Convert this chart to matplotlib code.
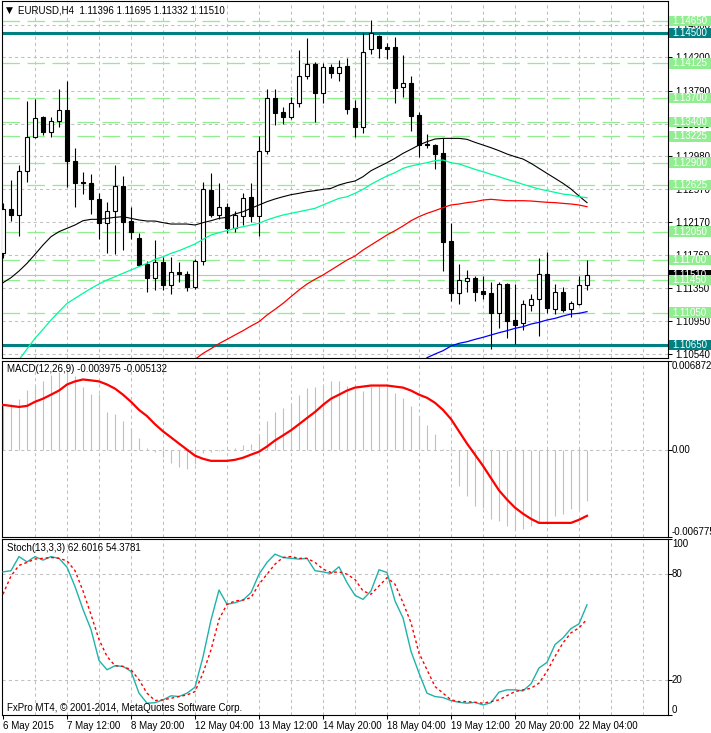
import numpy as np
import matplotlib
matplotlib.use("Agg")
import matplotlib.pyplot as plt
from matplotlib.patches import Rectangle
from matplotlib.transforms import blended_transform_factory

plt.rcParams['font.family'] = ['Liberation Sans', 'DejaVu Sans']
plt.rcParams['font.size'] = 7

# ---- EURUSD H4 candles ----
opens = [1.11781, 1.12324, 1.12250, 1.12801, 1.13213, 1.13459, 1.13283, 1.13418, 1.13550, 1.12925,
         1.12657, 1.12645, 1.12448, 1.12152, 1.12308, 1.12612, 1.12180, 1.11966, 1.11650, 1.11473,
         1.11670, 1.11391, 1.11555, 1.11522, 1.11370, 1.11691, 1.12563, 1.12254, 1.12349, 1.12098,
         1.12246, 1.12472, 1.12246, 1.13048, 1.13694, 1.13521, 1.13459, 1.13640, 1.13969, 1.14113,
         1.13764, 1.14076, 1.14011, 1.14093, 1.13571, 1.13336, 1.14298, 1.14463, 1.14323, 1.14323,
         1.13830, 1.13879, 1.13484, 1.13130, 1.13114, 1.13015, 1.11934, 1.11296, 1.11444, 1.11473,
         1.11317, 1.11288, 1.11049, 1.11399, 1.10959, 1.10926, 1.11148, 1.11214, 1.11526, 1.11099,
         1.11300, 1.11090, 1.11156, 1.11396]
highs = [1.12407, 1.12686, 1.12871, 1.13665, 1.13682, 1.13476, 1.13459, 1.13805, 1.13908, 1.13077,
         1.12781, 1.12760, 1.12522, 1.12419, 1.12871, 1.12736, 1.12349, 1.12036, 1.11691, 1.11946,
         1.11740, 1.11740, 1.11670, 1.11563, 1.11707, 1.12657, 1.12768, 1.12645, 1.12398, 1.12304,
         1.12522, 1.12645, 1.13229, 1.13805, 1.13805, 1.13583, 1.13714, 1.14290, 1.14434, 1.14146,
         1.14126, 1.14118, 1.14167, 1.14187, 1.13673, 1.14496, 1.14660, 1.14475, 1.14373, 1.14447,
         1.14229, 1.13969, 1.13529, 1.13254, 1.13126, 1.13200, 1.12152, 1.11650, 1.11576, 1.11502,
         1.11502, 1.11432, 1.11432, 1.11411, 1.11403, 1.11206, 1.11280, 1.11720, 1.11802, 1.11403,
         1.11362, 1.11197, 1.11502, 1.11695]
lows = [1.11720, 1.12184, 1.11995, 1.12666, 1.13200, 1.13241, 1.13221, 1.13336, 1.12596, 1.12349,
        1.12509, 1.12267, 1.11954, 1.11790, 1.11769, 1.11822, 1.11954, 1.11625, 1.11308, 1.11329,
        1.11329, 1.11280, 1.11432, 1.11321, 1.11337, 1.11637, 1.12234, 1.12201, 1.12036, 1.12040,
        1.12131, 1.12172, 1.11995, 1.13007, 1.13365, 1.13377, 1.13439, 1.13583, 1.13928, 1.13406,
        1.13640, 1.13941, 1.13912, 1.13496, 1.13221, 1.13270, 1.14237, 1.14196, 1.14175, 1.13640,
        1.13706, 1.13295, 1.12966, 1.13085, 1.12826, 1.11567, 1.11193, 1.11156, 1.11308, 1.11197,
        1.11218, 1.10597, 1.10856, 1.10733, 1.10663, 1.10835, 1.11070, 1.10761, 1.11049, 1.11033,
        1.11062, 1.10992, 1.11144, 1.11332]
closes = [1.12324, 1.12254, 1.12801, 1.13213, 1.13447, 1.13283, 1.13418, 1.13550, 1.12925, 1.12645,
          1.12645, 1.12448, 1.12152, 1.12308, 1.12612, 1.12172, 1.12049, 1.11637, 1.11473, 1.11670,
          1.11391, 1.11555, 1.11526, 1.11370, 1.11691, 1.12571, 1.12254, 1.12349, 1.12098, 1.12254,
          1.12460, 1.12246, 1.13048, 1.13694, 1.13517, 1.13459, 1.13640, 1.13969, 1.14113, 1.13764,
          1.14076, 1.14011, 1.14085, 1.13566, 1.13336, 1.14270, 1.14496, 1.14311, 1.14307, 1.13826,
          1.13879, 1.13480, 1.13118, 1.13114, 1.13007, 1.11925, 1.11296, 1.11452, 1.11473, 1.11308,
          1.11280, 1.11049, 1.11399, 1.10951, 1.10901, 1.11152, 1.11214, 1.11522, 1.11111, 1.11300,
          1.11082, 1.11164, 1.11386, 1.11510]

# moving averages on the price panel
ma_black = [1.11419, 1.11481, 1.11563, 1.11658, 1.11769, 1.11884, 1.11987, 1.12049, 1.12090, 1.12131,
            1.12184, 1.12201, 1.12201, 1.12213, 1.12226, 1.12234, 1.12213, 1.12193, 1.12180, 1.12180,
            1.12160, 1.12143, 1.12143, 1.12143, 1.12131, 1.12160, 1.12184, 1.12213, 1.12226, 1.12267,
            1.12295, 1.12337, 1.12378, 1.12419, 1.12452, 1.12480, 1.12505, 1.12522, 1.12542, 1.12555,
            1.12571, 1.12583, 1.12625, 1.12653, 1.12674, 1.12727, 1.12801, 1.12851, 1.12900, 1.12954,
            1.13015, 1.13065, 1.13118, 1.13159, 1.13192, 1.13200, 1.13200, 1.13200, 1.13188, 1.13151,
            1.13118, 1.13085, 1.13048, 1.13007, 1.12974, 1.12945, 1.12892, 1.12830, 1.12768, 1.12707,
            1.12645, 1.12575, 1.12489, 1.12407]
ma_green = [np.nan] * 2 + [
            1.10469, 1.10601, 1.10733, 1.10844, 1.10959, 1.11062, 1.11164, 1.11226,
            1.11288, 1.11349, 1.11403, 1.11452, 1.11493, 1.11535, 1.11576, 1.11617, 1.11658, 1.11707,
            1.11740, 1.11781, 1.11814, 1.11855, 1.11897, 1.11954, 1.12008, 1.12036, 1.12061, 1.12090,
            1.12110, 1.12131, 1.12152, 1.12193, 1.12226, 1.12254, 1.12275, 1.12295, 1.12316, 1.12337,
            1.12378, 1.12419, 1.12460, 1.12480, 1.12522, 1.12571, 1.12633, 1.12686, 1.12736, 1.12777,
            1.12830, 1.12859, 1.12880, 1.12900, 1.12925, 1.12933, 1.12900, 1.12884, 1.12851, 1.12818,
            1.12789, 1.12756, 1.12727, 1.12694, 1.12666, 1.12633, 1.12604, 1.12575, 1.12555, 1.12534,
            1.12513, 1.12501, 1.12480, 1.12468]
ma_red = [np.nan] * 24 + [
          1.10473, 1.10547, 1.10605, 1.10667, 1.10720, 1.10774,
          1.10827, 1.10885, 1.10938, 1.11020, 1.11090, 1.11164, 1.11247, 1.11329, 1.11403, 1.11461,
          1.11514, 1.11576, 1.11637, 1.11699, 1.11748, 1.11822, 1.11884, 1.11946, 1.12008, 1.12061,
          1.12119, 1.12184, 1.12234, 1.12275, 1.12308, 1.12345, 1.12378, 1.12390, 1.12407, 1.12419,
          1.12439, 1.12448, 1.12439, 1.12431, 1.12431, 1.12431, 1.12427, 1.12419, 1.12411, 1.12407,
          1.12398, 1.12390, 1.12378, 1.12357]
ma_blue = [np.nan] * 53 + [
           1.10494, 1.10539, 1.10580, 1.10638, 1.10671, 1.10691, 1.10720,
           1.10745, 1.10774, 1.10802, 1.10827, 1.10856, 1.10876, 1.10909, 1.10930, 1.10959, 1.10979,
           1.11008, 1.11033, 1.11041, 1.11062]

# horizontal levels
green_levels = [1.14650, 1.14125, 1.13700, 1.13400, 1.13225, 1.12900,
                1.12625, 1.12050, 1.11700, 1.11450, 1.11050]
teal_levels = [1.14500, 1.10650]
bid = 1.11510
price_ticks = [1.10540, 1.10950, 1.11350, 1.11760, 1.12170, 1.12570,
               1.12980, 1.13380, 1.13790, 1.14200, 1.14600]

# ---- MACD(12,26,9) ----
macd_main = [0.00355, 0.00355, 0.00395, 0.00466, 0.00497, 0.00529, 0.00576, 0.00600, 0.00615, 0.00568,
             0.00489, 0.00434, 0.00434, 0.00292, 0.00276, 0.00221, 0.00158, 0.00087, 0.00016, -0.00016,
             -0.00055, -0.00103, -0.00134, -0.00150, -0.00110, -0.00024, -0.00016, -0.00008, 0.00008, 0.00016,
             0.00039, 0.00047, 0.00118, 0.00221, 0.00292, 0.00323, 0.00355, 0.00426, 0.00481, 0.00489,
             0.00497, 0.00529, 0.00529, 0.00497, 0.00473, 0.00458, 0.00489, 0.00497, 0.00489, 0.00442,
             0.00402, 0.00339, 0.00260, 0.00189, 0.00118, 0.00002, -0.00008, -0.00284, -0.00363, -0.00434,
             -0.00450, -0.00537, -0.00552, -0.00592, -0.00615, -0.00615, -0.00592, -0.00568, -0.00568, -0.00513,
             -0.00497, -0.00458, -0.00458, -0.003975]
macd_signal = [0.00347, 0.00339, 0.00331, 0.00339, 0.00371, 0.00395, 0.00426, 0.00458, 0.00505, 0.00529,
               0.00544, 0.00537, 0.00529, 0.00505, 0.00473, 0.00426, 0.00371, 0.00308, 0.00260, 0.00197,
               0.00142, 0.00095, 0.00047, 0.00000, -0.00047, -0.00071, -0.00087, -0.00087, -0.00087, -0.00079,
               -0.00063, -0.00039, -0.00016, 0.00024, 0.00071, 0.00110, 0.00150, 0.00197, 0.00245, 0.00292,
               0.00347, 0.00395, 0.00426, 0.00458, 0.00481, 0.00489, 0.00497, 0.00497, 0.00497, 0.00489,
               0.00481, 0.00458, 0.00426, 0.00402, 0.00363, 0.00308, 0.00237, 0.00142, 0.00047, -0.00039,
               -0.00126, -0.00221, -0.00316, -0.00387, -0.00450, -0.00497, -0.00537, -0.00568, -0.00568, -0.00568,
               -0.00568, -0.00568, -0.00544, -0.005132]
macd_range = (-0.006775, 0.006872)

# ---- Stochastic(13,3,3) ----
stoch_main = [81.3, 82.0, 90.0, 87.0, 90.0, 88.0, 90.0, 89.0, 84.0, 73.0,
              60.0, 48.6, 31.0, 25.7, 28.0, 27.6, 24.8, 12.4, 6.7, 7.0,
              8.6, 10.9, 10.5, 12.4, 15.8, 33.0, 54.0, 71.0, 62.9, 63.8,
              65.3, 69.5, 80.0, 86.7, 91.4, 89.5, 89.0, 88.6, 89.0, 82.0,
              81.3, 80.4, 84.2, 75.2, 68.0, 65.7, 70.5, 82.5, 81.0, 64.8,
              55.2, 36.2, 23.8, 12.4, 10.5, 9.9, 8.2, 7.2, 6.7, 7.2,
              5.7, 7.0, 13.0, 14.3, 14.3, 13.7, 17.7, 26.7, 29.9, 40.0,
              43.8, 49.1, 51.8, 62.6016]
stoch_signal = [68.6, 79.0, 85.0, 86.7, 88.6, 89.0, 89.5, 89.0, 87.6, 82.0,
                70.5, 57.0, 42.9, 33.3, 28.0, 27.6, 25.7, 20.0, 12.4, 8.2,
                8.6, 9.5, 10.5, 11.4, 13.3, 23.8, 37.0, 54.3, 62.9, 64.8,
                65.3, 66.7, 74.3, 80.0, 85.7, 89.5, 90.0, 89.0, 89.0, 86.7,
                82.9, 81.0, 81.3, 80.0, 77.0, 70.5, 68.6, 73.3, 78.0, 74.3,
                63.8, 52.4, 35.2, 25.7, 16.2, 12.4, 8.6, 7.6, 7.6, 7.2,
                6.7, 7.6, 8.6, 11.0, 13.3, 14.3, 15.2, 18.1, 24.8, 33.3,
                41.0, 46.7, 49.5, 54.3781]

# time axis: label every 8 bars
time_label_idx = [0, 8, 16, 24, 32, 40, 48, 56, 64, 72]
time_labels = ['6 May 2015', '7 May 12:00', '8 May 20:00', '12 May 04:00', '13 May 12:00',
               '14 May 20:00', '18 May 04:00', '19 May 12:00', '20 May 20:00', '22 May 04:00']

GRID = '#C0C0C0'
LGREEN = '#90EE90'
TEAL = '#008080'

W, H = 711, 733
fig = plt.figure(figsize=(W / 100, H / 100), dpi=100)


def px_axes(x0, y0, x1, y1):
    return fig.add_axes([x0 / W, 1 - y1 / H, (x1 - x0) / W, (y1 - y0) / H])


ax = px_axes(2, 1, 668, 358)
ax_macd = px_axes(2, 361, 668, 537)
ax_st = px_axes(2, 539, 668, 715)

x = np.arange(len(opens))
xlim = (-0.125, 83.125)
for a in (ax, ax_macd, ax_st):
    a.set_xlim(*xlim)
    for s in a.spines.values():
        s.set_linewidth(0.8)
        s.set_color('black')
    for xv in range(4, 84, 4):
        a.axvline(xv, color=GRID, lw=0.75, ls=(0, (3, 3)), zorder=0)
    a.yaxis.tick_right()
    a.tick_params(axis='y', length=3, width=0.75, pad=2, labelsize=7)

# ---- price panel ----
ylo, yhi = 1.10490, 1.14895
ax.set_ylim(ylo, yhi)
ax.set_xticks([])
ax.set_yticks(price_ticks)
ax.set_yticklabels([f'{v:.5f}' for v in price_ticks])
for v in price_ticks:
    ax.axhline(v, color=GRID, lw=0.75, ls=(0, (3, 3)), zorder=0)
for v in green_levels:
    ax.axhline(v, color=LGREEN, lw=0.9, ls=(0, (14, 6)), zorder=1)
ax.axhline(bid, color=GRID, lw=0.8, zorder=1)
for v in teal_levels:
    ax.axhline(v, color=TEAL, lw=2.2, zorder=2)

o, h, l, c = (np.array(v) for v in (opens, highs, lows, closes))
up = c >= o
ax.vlines(x, l, h, color='black', lw=0.8, zorder=3)
ax.bar(x[up], (c - o)[up], bottom=o[up], width=0.55, facecolor='white',
       edgecolor='black', lw=0.8, zorder=4)
ax.bar(x[~up], (o - c)[~up], bottom=c[~up], width=0.55, facecolor='black',
       edgecolor='black', lw=0.8, zorder=4)

ax.plot(x, ma_black, color='black', lw=0.8, zorder=5)
ax.plot(x, ma_green, color='#00FA9A', lw=0.9, zorder=5)
ax.plot(x, ma_red, color='red', lw=0.9, zorder=5)
ax.plot(x, ma_blue, color='blue', lw=0.9, zorder=5)

# price labels on the right scale
trans = blended_transform_factory(ax.transAxes, ax.transData)
ppu = 357 / (yhi - ylo)
hh = 10.5 / ppu
tags = [(bid, 'black')] + [(v, LGREEN) for v in green_levels] + [(v, TEAL) for v in teal_levels]
tags = [tags[0]] + sorted(tags[1:], key=lambda t: -t[0])
for k, (lvl, col) in enumerate(tags):
    ax.add_patch(Rectangle((1 + 1 / 666, lvl - hh / 2), 42 / 666, hh, transform=trans,
                           facecolor=col, edgecolor='none', clip_on=False, zorder=10 + 2 * k))
    ax.text(1 + 4 / 666, lvl, f'{lvl:.5f}', transform=trans, color='white', fontsize=7,
            ha='left', va='center', clip_on=False, zorder=11 + 2 * k)

fig.text(6 / W, 1 - 10.5 / H, '\u25bc', fontsize=6.5, va='center', ha='left',
         family='DejaVu Sans')
fig.text(18 / W, 1 - 10.5 / H,
         f'EURUSD,H4  {opens[-1]:.5f} {highs[-1]:.5f} {lows[-1]:.5f} {closes[-1]:.5f}',
         fontsize=7, va='center', ha='left')

# ---- MACD panel ----
ax_macd.set_ylim(*macd_range)
ax_macd.set_xticks([])
ax_macd.set_yticks([macd_range[1], 0, macd_range[0]])
ax_macd.set_yticklabels([])
ax_macd.axhline(0, color=GRID, lw=0.75, ls=(0, (3, 3)), zorder=0)
ax_macd.vlines(x, 0, macd_main, color=GRID, lw=0.8, zorder=2)
ax_macd.plot(x, macd_signal, color='red', lw=1.6, zorder=3)
mt = blended_transform_factory(ax_macd.transAxes, ax_macd.transData)
ax_macd.text(1 + 4 / 666, macd_range[1], f'{macd_range[1]:.6f}', transform=mt, va='top', fontsize=7)
ax_macd.text(1 + 4 / 666, 0, '0.00', transform=mt, va='center', fontsize=7)
ax_macd.text(1 + 4 / 666, macd_range[0], f'{macd_range[0]:.6f}', transform=mt, va='bottom', fontsize=7,
             clip_on=False)
fig.text(7 / W, 1 - 369 / H, f'MACD(12,26,9) {macd_main[-1]:.6f} {macd_signal[-1]:.6f}',
         fontsize=7, va='center', ha='left')

# ---- Stochastic panel ----
ax_st.set_ylim(0, 100)
ax_st.set_yticks([100, 80, 20, 0])
ax_st.set_yticklabels([])
for v in (80, 20):
    ax_st.axhline(v, color=GRID, lw=0.75, ls=(0, (3, 3)), zorder=0)
ax_st.plot(x, stoch_main, color='#20B2AA', lw=1.0, zorder=3)
ax_st.plot(x, stoch_signal, color='red', lw=1.0, ls=(0, (2, 2)), zorder=3)
st = blended_transform_factory(ax_st.transAxes, ax_st.transData)
for v, va in ((100, 'top'), (80, 'center'), (20, 'center'), (0, 'bottom')):
    ax_st.text(1 + 4 / 666, v, str(v), transform=st, va=va, fontsize=7)
ax_st.set_xticks(time_label_idx)
ax_st.set_xticklabels(time_labels, ha='left')
ax_st.tick_params(axis='x', length=3, width=0.75, pad=1, labelsize=7)
fig.text(7 / W, 1 - 548 / H, f'Stoch(13,3,3) {stoch_main[-1]:.4f} {stoch_signal[-1]:.4f}',
         fontsize=7, va='center', ha='left')
fig.text(7 / W, 1 - 708 / H, 'FxPro MT4, \u00a9 2001-2014, MetaQuotes Software Corp.',
         fontsize=7, va='center', ha='left')

fig.savefig('out.png', dpi=100, facecolor='white')
